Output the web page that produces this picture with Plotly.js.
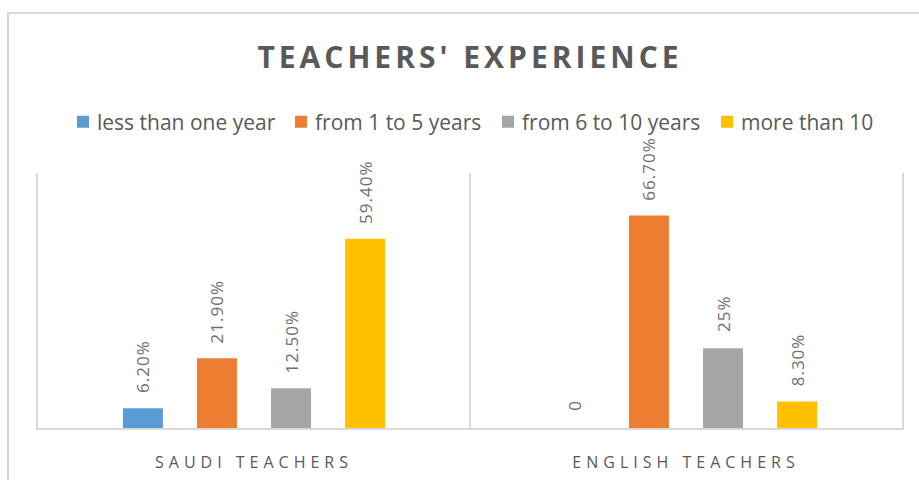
<!DOCTYPE html>
<html>
<head>
<meta charset="utf-8">
<script src="https://cdn.plot.ly/plotly-3.0.1.min.js"></script>
<style>
  html, body { margin: 0; padding: 0; background: #ffffff; overflow: hidden; }
  #frame { position: absolute; left: 7px; top: 12px; width: 1200px; height: 1000px; border: 2px solid #d9d9d9; box-sizing: border-box; }
  #chart { position: absolute; left: 0; top: 0; width: 919px; height: 480px; }
  #chart .gtitle { letter-spacing: 4px; }
  #chart .xtick text { letter-spacing: 5px; }
  #chart .bartext { letter-spacing: 1px; }
  #chart text.legendtext, #chart text.legend2text, #chart text.legend3text, #chart text.legend4text { transform: translateX(-6px); }
</style>
</head>
<body>
<div id="frame"></div>
<div id="chart"></div>
<script>
const categories = ["SAUDI TEACHERS", "ENGLISH TEACHERS"];
const seriesNames = ["less than one year", "from 1 to 5 years", "from 6 to 10 years", "more than 10"];
const lessThanOneYear = [6.2, 0];
const from1to5 = [21.9, 66.7];
const from6to10 = [12.5, 25];
const moreThan10 = [59.4, 8.3];
const labelsLessThanOneYear = ["6.20%", "0"];
const labelsFrom1to5 = ["21.90%", "66.70%"];
const labelsFrom6to10 = ["12.50%", "25%"];
const labelsMoreThan10 = ["59.40%", "8.30%"];
const colors = ["#5b9bd5", "#ed7d31", "#a5a5a5", "#ffc000"];

const values = [lessThanOneYear, from1to5, from6to10, moreThan10];
const labels = [labelsLessThanOneYear, labelsFrom1to5, labelsFrom6to10, labelsMoreThan10];
const legendIds = ["legend", "legend2", "legend3", "legend4"];
const legendLeft = [63, 281, 488, 707];

const traces = seriesNames.map((name, i) => ({
  type: "bar",
  name: name,
  legend: legendIds[i],
  x: categories,
  y: values[i],
  text: labels[i],
  texttemplate: "\u00a0\u00a0\u00a0%{text}",
  textposition: "outside",
  textangle: -90,
  constraintext: "none",
  cliponaxis: false,
  textfont: { family: "Open Sans", size: 17, color: "#6f6f6f" },
  marker: { color: colors[i] },
  hoverinfo: "none"
}));

const layout = {
  width: 919,
  height: 480,
  paper_bgcolor: "rgba(0,0,0,0)",
  plot_bgcolor: "rgba(0,0,0,0)",
  margin: { l: 38, r: 17, t: 173, b: 52 },
  font: { family: "Open Sans", color: "#595959" },
  title: {
    text: "<b>TEACHERS' EXPERIENCE</b>",
    font: { family: "Open Sans", size: 30, color: "#595959" },
    xref: "container", yref: "container",
    x: 470 / 919, xanchor: "center",
    y: 1 - 57 / 480, yanchor: "middle"
  },
  barmode: "group",
  bargap: 0.314,
  bargroupgap: 0.46,
  showlegend: true,
  xaxis: {
    type: "category",
    tickson: "boundaries",
    showgrid: true,
    gridcolor: "#d9d9d9",
    gridwidth: 2,
    showline: true,
    linecolor: "#d9d9d9",
    linewidth: 2,
    ticks: "",
    ticklabelstandoff: 19,
    tickfont: { family: "Open Sans", size: 16, color: "#595959" },
    fixedrange: true
  },
  yaxis: {
    range: [0, 80],
    showticklabels: false,
    ticks: "",
    showgrid: false,
    zeroline: false,
    showline: true,
    mirror: true,
    linecolor: "#d9d9d9",
    linewidth: 2,
    fixedrange: true
  }
};

legendIds.forEach((id, i) => {
  layout[id] = {
    orientation: "h",
    xref: "container", yref: "container",
    x: legendLeft[i] / 919, xanchor: "left",
    y: 1 - 122 / 480, yanchor: "middle",
    font: { family: "Open Sans", size: 21, color: "#595959" },
    itemwidth: 30,
    bgcolor: "rgba(0,0,0,0)"
  };
});

Plotly.newPlot("chart", traces, layout, { displayModeBar: false, staticPlot: true });
</script>
</body>
</html>
